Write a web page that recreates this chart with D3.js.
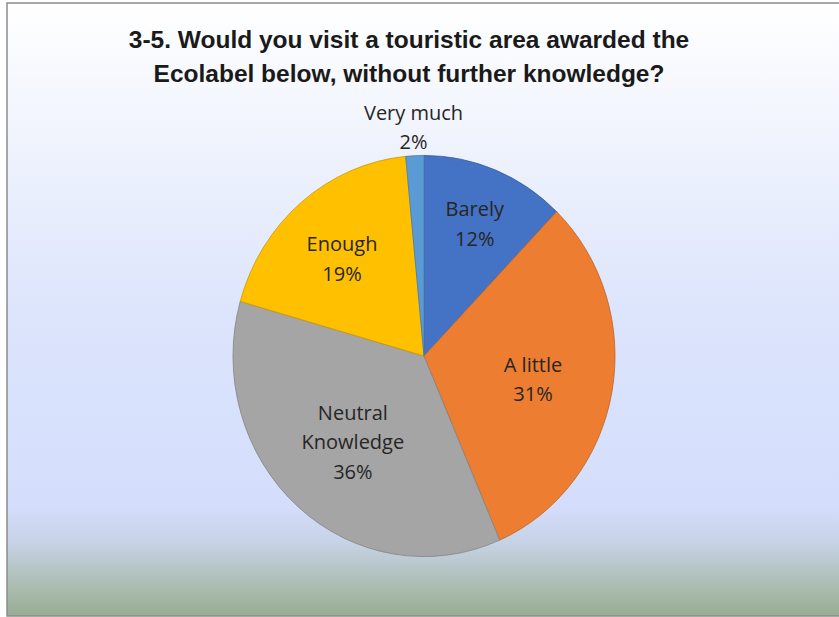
<!DOCTYPE html>
<html>
<head>
<meta charset="utf-8">
<script src="https://cdn.jsdelivr.net/npm/d3@7"></script>
<style>
  html, body { margin: 0; padding: 0; background: #ffffff; }
  svg { display: block; }
</style>
</head>
<body>
<svg id="chart" width="839" height="617"></svg>
<script>
// ---- data ----
const titleLines = ["3-5. Would you visit a touristic area awarded the", "Ecolabel below, without further knowledge?"];
const categories = ["Barely", "A little", "Neutral Knowledge", "Enough", "Very much"];
const labelLines = [["Barely"], ["A little"], ["Neutral", "Knowledge"], ["Enough"], ["Very much"]];
const counts = [16, 41, 47, 25, 2];
const colors = ["#4472C4", "#ED7D31", "#A5A5A5", "#FFC000", "#5B9BD5"];

// ---- layout ----
const W = 839, H = 617;
const cx = 424, cy = 356, R = 191, yStretch = 1.05;
const labelRadius = [0.71, 0.58, 0.565, 0.67, 1.14];
const labelShift = [7, 9.5, 8, 13, 7];

const svg = d3.select("#chart");
const defs = svg.append("defs");
const grad = defs.append("linearGradient").attr("id", "bg").attr("x1", 0).attr("y1", 0).attr("x2", 0).attr("y2", 1);
[[0, "#ffffff"], [0.25, "#eef2fd"], [0.5, "#dde5fc"], [0.82, "#d4defc"], [0.88, "#c6d2e6"], [0.95, "#acbdb2"], [1, "#96ad93"]]
  .forEach(([o, c]) => grad.append("stop").attr("offset", o).attr("stop-color", c));

svg.append("rect").attr("x", 7).attr("y", 3).attr("width", W + 10).attr("height", 613)
  .attr("fill", "url(#bg)").attr("stroke", "#8c8c8c").attr("stroke-width", 1.5);

// title
const title = svg.append("text").attr("text-anchor", "middle")
  .attr("font-family", "'Liberation Sans', Arial, sans-serif").attr("font-weight", "bold")
  .attr("font-size", 24.5).attr("fill", "#1a1a1a");
titleLines.forEach((t, i) => title.append("tspan").attr("x", 409).attr("y", 48 + i * 34).text(t));

// pie
const total = d3.sum(counts);
const pie = d3.pie().sort(null).value(d => d)(counts);
const arc = d3.arc().innerRadius(0).outerRadius(R);

const g = svg.append("g").attr("transform", `translate(${cx},${cy}) scale(1,${yStretch})`);
g.selectAll("path").data(pie).enter().append("path")
  .attr("d", arc)
  .attr("fill", (d, i) => colors[i])
  .attr("stroke", (d, i) => d3.color(colors[i]).darker(0.6))
  .attr("stroke-width", 0.8);

// labels
const lab = svg.append("g").attr("font-family", "'Open Sans', sans-serif").attr("font-size", 20)
  .attr("fill", "#262626").attr("text-anchor", "middle");
pie.forEach((d, i) => {
  const a = (d.startAngle + d.endAngle) / 2;
  const r = R * labelRadius[i];
  const x = cx + Math.sin(a) * r;
  const y = cy - Math.cos(a) * r * yStretch;
  const lines = labelLines[i].concat([Math.round(counts[i] / total * 100) + "%"]);
  const lh = 29.5;
  const t = lab.append("text");
  lines.forEach((s, k) => {
    t.append("tspan").attr("x", x).attr("y", y + labelShift[i] + (k - (lines.length - 1) / 2) * lh).text(s);
  });
});
</script>
</body>
</html>
